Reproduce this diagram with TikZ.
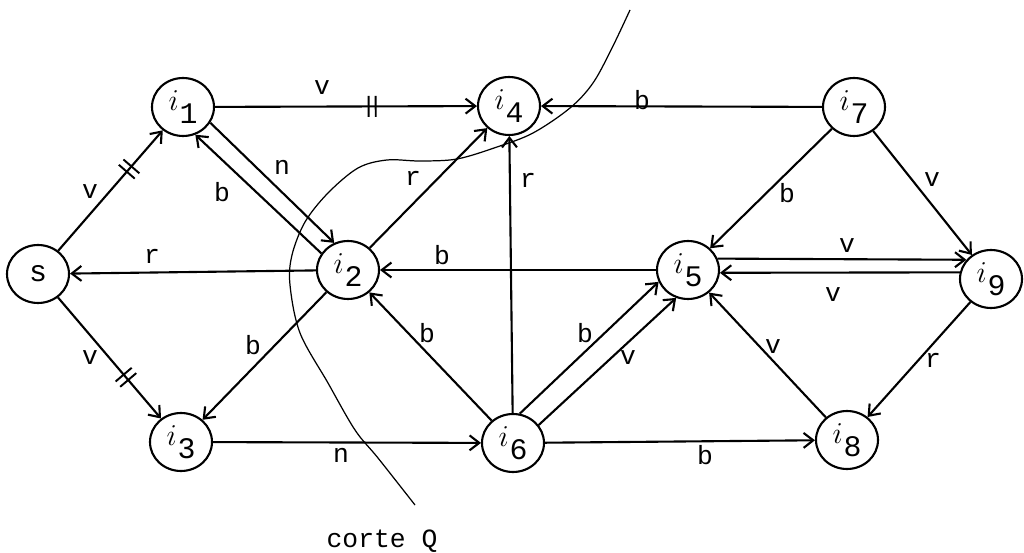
\documentclass[tikz,border=0pt]{standalone}
\usepackage{fontspec}
\setmonofont{Liberation Mono}
\usetikzlibrary{arrows.meta,shapes.geometric,decorations.markings,calc}
\newcommand\vlab[1]{$i$\kern0.5pt\raisebox{-0.42em}{\ttfamily #1}}
\begin{document}
\begin{tikzpicture}[x=0.02cm,y=-0.02cm,
  vtx/.style={draw, ellipse, line width=1.2pt, minimum width=1.24cm, minimum height=1.16cm, inner sep=0pt, font=\fontsize{17}{19}\selectfont},
  arr/.style={line width=1.2pt, -{Straight Barb[length=5.5pt,width=8.5pt]}},
  lbl/.style={font=\ttfamily\fontsize{15}{17}\selectfont, inner sep=0pt},
  ticks/.style={postaction={decorate, decoration={markings, mark=at position #1 with {\draw[-, line width=1.1pt] (-2pt,-6pt)--(-2pt,6pt) (2pt,-6pt)--(2pt,6pt);}}}},
  cut/.style={line width=0.7pt}
]
\useasboundingbox (0,0) rectangle (1024,553);

% nodes
\node[vtx] (s)  at (38,274)  {\ttfamily s};
\node[vtx] (i1) at (183,107) {\vlab{1}};
\node[vtx] (i2) at (348,270) {\vlab{2}};
\node[vtx] (i3) at (181,442) {\vlab{3}};
\node[vtx] (i4) at (509,106) {\vlab{4}};
\node[vtx] (i5) at (688,270) {\vlab{5}};
\node[vtx] (i6) at (513,443) {\vlab{6}};
\node[vtx] (i7) at (854,107) {\vlab{7}};
\node[vtx] (i8) at (847,440) {\vlab{8}};
\node[vtx] (i9) at (991,279) {\vlab{9}};

% edges
\draw[arr, ticks=0.68] (s) -- (i1);
\draw[arr, ticks=0.66] (s) -- (i3);
\draw[arr] (i2) -- (s);
\draw[arr, ticks=0.6] (i1) -- (i4);
\draw[arr] (i7) -- (i4);
\draw[arr] (i1.-30) -- (i2.117);
\draw[arr] (i2.148) -- (i1.-66);
\draw[arr] (i2) -- (i4);
\draw[arr] (i6) -- (i4);
\draw[arr] (i5) -- (i2);
\draw[arr] (i2) -- (i3);
\draw[arr] (i6) -- (i2);
\draw[arr] (i3) -- (i6);
\draw[arr] (i6.77) -- (i5.-158);
\draw[arr] (i6.35) -- (i5.-113);
\draw[arr] (i6) -- (i8);
\draw[arr] (i7) -- (i5);
\draw[arr] (i7) -- (i9);
\draw[arr] (i5.21) -- (i9.142);
\draw[arr] (i9.168) -- (i5.-5);
\draw[arr] (i8) -- (i5);
\draw[arr] (i9) -- (i8);

% edge labels
\node[lbl] (l1)  at (90,192)  {v};
\node[lbl] (l2)  at (222,192) {b};
\node[lbl] (l3)  at (282,167) {n};
\node[lbl] (l4)  at (152,256) {r};
\node[lbl] (l5)  at (90,358)  {v};
\node[lbl] (l6)  at (253,345) {b};
\node[lbl] (l7)  at (322,88)  {v};
\node[lbl] (l8)  at (642,100) {b};
\node[lbl] (l9)  at (413,178) {r};
\node[lbl] (l10) at (528,180) {r};
\node[lbl] (l11) at (442,255) {b};
\node[lbl] (l12) at (427,333) {b};
\node[lbl] (l13) at (585,333) {b};
\node[lbl] (l14) at (628,358) {v};
\node[lbl] (l15) at (341,455) {n};
\node[lbl] (l16) at (787,193) {b};
\node[lbl] (l17) at (932,180) {v};
\node[lbl] (l18) at (847,246) {v};
\node[lbl] (l19) at (833,295) {v};
\node[lbl] (l20) at (773,347) {v};
\node[lbl] (l21) at (933,360) {r};
\node[lbl] (l22) at (705,455) {b};

% cut curve
\draw[cut] plot[smooth, tension=0.55] coordinates {
  (630,10) (612,48) (593,83) (570,108) (533,133) (497,147) (457,159)
  (420,161) (387,160) (358,168) (328,193) (305,222) (292,255) (290,285)
  (300,333) (328,383) (355,430) (378,458) (415,505)};
\node[lbl] (cq) at (382,541) {corte Q};
\end{tikzpicture}
\end{document}
